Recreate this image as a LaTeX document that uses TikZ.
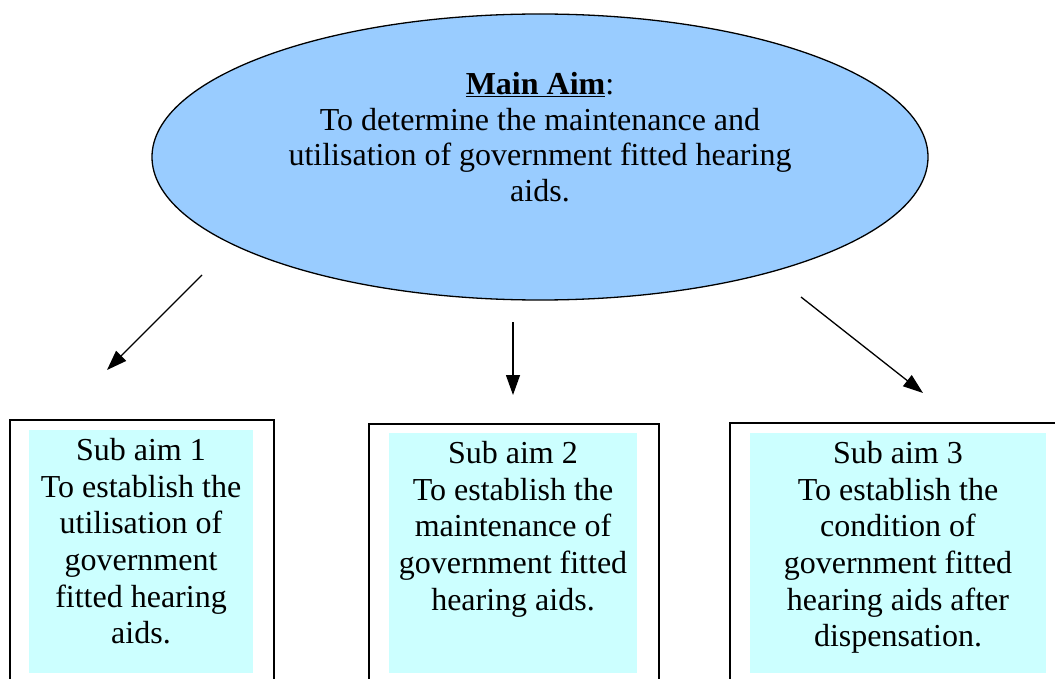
\documentclass[tikz,border=0pt]{standalone}
\usepackage{fontspec}
\setmainfont{Liberation Serif}
\usetikzlibrary{arrows.meta,shapes.geometric}
\definecolor{ellblue}{HTML}{99CCFF}
\definecolor{subcyan}{HTML}{CCFFFF}
\tikzset{
  outerbox/.style={draw=black, line width=1.5pt, anchor=north west, inner sep=0pt},
  cyanbox/.style={fill=subcyan, anchor=north west, inner sep=0pt},
  subtext/.style={font=\fontsize{32}{36.7}\selectfont, align=center, anchor=north, inner sep=0pt},
  aimarrow/.style={line width=1.3pt, -{Triangle[length=20pt,width=14pt]}}
}
\begin{document}
\begin{tikzpicture}[x=1pt,y=-1pt]
\useasboundingbox (0,0) rectangle (1055,679);
\clip (0,0) rectangle (1055,679);
% main ellipse
\node[ellipse, draw=black, line width=1.3pt, fill=ellblue, minimum width=776pt, minimum height=286pt, inner sep=0pt] (main) at (540,157) {};
\node[font=\fontsize{32}{35.5}\selectfont, align=center, inner sep=0pt] (maintext) at (540,137)
  {\textbf{\underline{Main Aim}}:\\To determine the maintenance and\\utilisation of government fitted hearing\\aids.};
% sub boxes
\node[outerbox, minimum width=264pt, minimum height=300pt] (out1) at (9,419) {};
\node[outerbox, minimum width=290pt, minimum height=300pt] (out2) at (368,423) {};
\node[outerbox, minimum width=340pt, minimum height=300pt] (out3) at (729,422) {};
\node[cyanbox, minimum width=224pt, minimum height=243pt] (sub1) at (29,430) {};
\node[cyanbox, minimum width=248pt, minimum height=240pt] (sub2) at (389,433) {};
\node[cyanbox, minimum width=296pt, minimum height=240pt] (sub3) at (750,433) {};
\node[subtext] (t1) at (141,438) {Sub aim 1\\To establish the\\utilisation of\\government\\fitted hearing\\aids.};
\node[subtext] (t2) at (513,441) {Sub aim 2\\To establish the\\maintenance of\\government fitted\\hearing aids.};
\node[subtext] (t3) at (898,441) {Sub aim 3\\To establish the\\condition of\\government fitted\\hearing aids after\\dispensation.};
% arrows
\coordinate (a1s) at (202,275); \coordinate (a1e) at (107,370);
\coordinate (a2s) at (513,322); \coordinate (a2e) at (513,395);
\coordinate (a3s) at (801,297); \coordinate (a3e) at (923,393);
\draw[aimarrow] (a1s) -- (a1e);
\draw[aimarrow] (a2s) -- (a2e);
\draw[aimarrow] (a3s) -- (a3e);
\end{tikzpicture}
\end{document}
